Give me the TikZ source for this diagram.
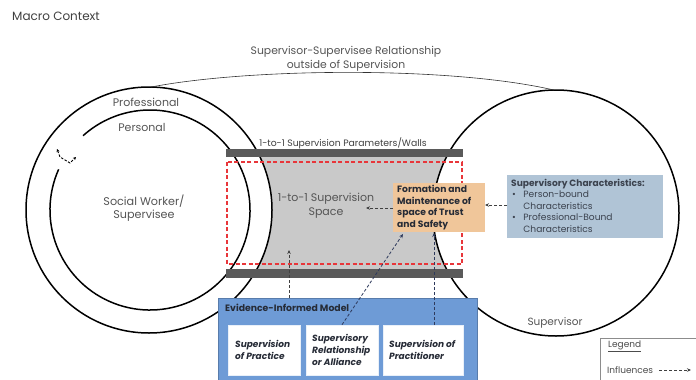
\documentclass[tikz,border=0pt]{standalone}
\usepackage{fontspec}
\setmainfont{Poppins}
\usetikzlibrary{arrows.meta,calc}

\definecolor{txtgray}{HTML}{555555}
\definecolor{spacegray}{HTML}{C9C9C9}
\definecolor{wallgray}{HTML}{5A5A5A}
\definecolor{safered}{HTML}{E8363A}
\definecolor{trusttan}{HTML}{F0C69A}
\definecolor{charblue}{HTML}{B0C4D6}
\definecolor{modelblue}{HTML}{6E9BD6}
\definecolor{boxtext}{HTML}{262B36}
\definecolor{linknavy}{HTML}{2E3A5C}

\tikzset{
  lbl/.style={text=txtgray, inner sep=0pt, align=center, font=\fontsize{11}{13}\selectfont},
  ring/.style={circle, draw=black, line width=1.5pt, inner sep=0pt, outer sep=0pt},
  wall/.style={fill=wallgray, draw=none},
  modelbox/.style={draw=white!85!modelblue, fill=white, line width=0.6pt, minimum width=#1, minimum height=50pt,
    inner sep=0pt},
  boxlbl/.style={anchor=west, inner sep=0pt, align=left, text=boxtext, font=\fontsize{9}{12.5}\selectfont\bfseries\itshape},
  influence/.style={dashed, dash pattern=on 3pt off 2pt, line width=0.8pt,
    -{Stealth[length=4pt,width=3.5pt]}},
}

\begin{document}
\begin{tikzpicture}[x=1pt,y=-1pt]
\useasboundingbox (0,0) rectangle (696,380);
\fill[white] (0,0) rectangle (696,380);

% the 1-to-1 supervision space between the two people
\fill[spacegray] (226,157) rectangle (463,269);
\fill[white] (149,210) circle[radius=123pt];
\fill[white] (556,213) circle[radius=123pt];

% supervisee: professional ring and (open) personal ring
\node[ring, minimum size=246pt] (swo) at (149,210) {};
\draw[line width=1.5pt] ([shift={(156:100pt)}]150,210) arc[start angle=156, end angle=492, radius=100pt];
\coordinate (permA) at (57,149);
\coordinate (permB) at (76,157);
\draw[dashed, dash pattern=on 2.5pt off 1.5pt, line width=0.9pt,
  {Stealth[length=3pt,width=3pt]}-{Stealth[length=3pt,width=3pt]}]
  (permA) -- (60,157) -- (70,163) -- (permB);

% supervisor ring
\node[ring, minimum size=246pt] (sup) at (556,213) {};

% relationship outside of supervision
\draw[line width=0.6pt, black!80] (swo.89) .. controls (250,68) and (450,66) .. (sup.91);

% walls of the supervision space
\node[wall, minimum width=237pt, minimum height=8pt, inner sep=0pt] (wtop) at (344.5,153) {};
\node[wall, minimum width=237pt, minimum height=9pt, inner sep=0pt] (wbot) at (344.5,273.5) {};
\draw[safered, line width=1.1pt, dash pattern=on 4pt off 2.5pt] (227,162) rectangle (462,264);

% texts
\node[anchor=west, text=black!75, inner sep=0pt, font=\fontsize{12}{14}\selectfont] (macro) at (12,16) {Macro Context};
\node[lbl, font=\fontsize{10.8}{14}\selectfont] (rel) at (346,59) {Supervisor-Supervisee Relationship\\outside of Supervision};
\node[lbl] (prof) at (146,102) {Professional};
\node[lbl] (pers) at (142,127) {Personal};
\node[lbl, font=\fontsize{11.2}{13.5}\selectfont] (swlbl) at (144,208) {Social Worker/\\Supervisee};
\node[lbl, text=black!75, font=\fontsize{9.3}{11}\selectfont] (walls) at (343,143) {1-to-1 Supervision Parameters/Walls};
\node[lbl, font=\fontsize{11}{14}\selectfont] (space) at (326,206) {1-to-1 Supervision\\Space};
\node[lbl, font=\fontsize{10.5}{12}\selectfont] (suplbl) at (555,323) {Supervisor};

% trust and safety
\node[fill=trusttan, minimum width=92pt, minimum height=49pt, inner sep=0pt, outer sep=0pt] (trust) at (439,207.5) {};
\node[anchor=west, inner sep=0pt, align=left, text=boxtext, font=\fontsize{9.2}{11.8}\selectfont\bfseries]
  (trusttxt) at (397,207.5) {Formation and\\Maintenance of\\space of Trust\\and Safety};

% supervisory characteristics
\node[fill=charblue, minimum width=156pt, minimum height=63pt, inner sep=0pt, outer sep=0pt] (chars) at (585,206.5) {};
\node[anchor=north west, inner sep=0pt, align=left, text=boxtext!85!charblue, font=\fontsize{9.1}{12}\selectfont]
  (charstxt) at (511,179) {\textbf{Supervisory Characteristics:}\\[-0.5pt]
  \begin{tabular}{@{\hspace{1pt}}l@{\hspace{7.5pt}}l@{}}
  \textbullet & Person-bound\\[-0.6pt]
              & Characteristics\\[-0.6pt]
  \textbullet & Professional-Bound\\[-0.6pt]
              & Characteristics
  \end{tabular}};

% evidence-informed model
\node[fill=modelblue, draw=modelblue!80!black, line width=0.4pt, minimum width=259pt, minimum height=82pt,
  inner sep=0pt, outer sep=0pt] (evid) at (347.5,339) {};
\node[anchor=west, inner sep=0pt, text=boxtext, font=\fontsize{9.3}{11}\selectfont\bfseries] (evidtxt) at (225,308) {Evidence-Informed Model};
\node[modelbox=72pt] (bpract) at (264,350) {};
\node[boxlbl] at (235,350) {Supervision\\of Practice};
\node[modelbox=72pt] (brel) at (342,350) {};
\node[boxlbl, font=\fontsize{9}{12}\selectfont\bfseries\itshape] at (312,350) {Supervisory\\Relationship\\or Alliance};
\node[modelbox=80pt] (bprac) at (423,350) {};
\node[boxlbl] at (389,350) {Supervision of\\Practitioner};

% influences
\coordinate (spaceIn) at (289,250);
\coordinate (spaceR) at (366,208);
\coordinate (trustRel) at (403,234);
\coordinate (trustPrac) at (434,233);
\draw[influence, black!75] (evid.north -| spaceIn) -- (spaceIn);
\draw[influence, black!75] (trust.west |- spaceR) -- (spaceR);
\draw[influence, black!75] (chars.west |- 0,205) -- (trust.east |- 0,205);
\draw[influence, linknavy] (brel.north) -- (trustRel);
\draw[influence, linknavy] (bprac.north -| trustPrac) -- (trustPrac);

% legend
\node[draw=black!45, line width=0.6pt, fill=white, minimum width=100pt, minimum height=50pt, inner sep=0pt,
  anchor=north west] (legend) at (600,338) {};
\node[anchor=west, inner sep=0pt, text=black!70, font=\fontsize{9}{10}\selectfont] (legtitle) at (608,346) {\underline{Legend}};
\node[anchor=west, inner sep=0pt, text=black!70, font=\fontsize{9}{10}\selectfont] (leginf) at (607,370) {Influences};
\coordinate (legEnd) at (691,370);
\draw[influence, black!75] (leginf.east) ++(6,0) -- (legEnd);
\end{tikzpicture}
\end{document}
